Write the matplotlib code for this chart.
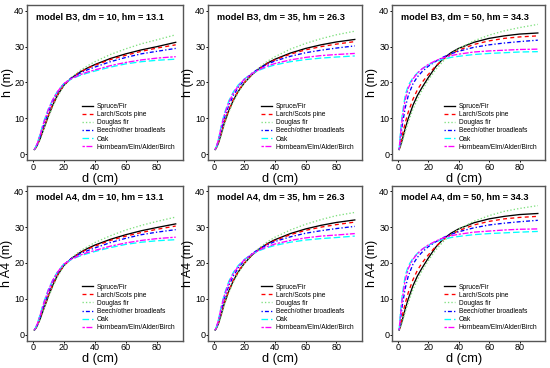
import matplotlib
matplotlib.use("Agg")
import matplotlib.pyplot as plt

plt.rcParams['font.family'] = ['Liberation Sans', 'DejaVu Sans']

species = ["Spruce/Fir", "Larch/Scots pine", "Douglas fir",
           "Beech/other broadleafs", "Oak", "Hornbeam/Elm/Alder/Birch"]
colors = ["black", "red", "#7FE07F", "blue", "cyan", "magenta"]
styles = ["-", (0, (3, 2.5)), (0, (1, 1.6)), (0, (1, 1.6, 3, 1.6)),
          (0, (5, 2.2)), (0, (1.8, 1.2, 4.5, 1.2))]

d = [1, 2, 3, 5, 7, 10, 13, 16, 20, 25, 30, 35, 40, 50, 60, 70, 80, 92]

# rows: species in the order above
b3_dm10 = [
    [1.3, 1.8, 2.6, 4.6, 7.0, 10.6, 13.8, 16.5, 19.2, 21.3, 22.8, 24.0, 25.0, 26.7, 28.0, 29.1, 30.0, 31.2],
    [1.3, 1.9, 2.7, 4.8, 7.2, 10.8, 14.0, 16.7, 19.3, 21.3, 22.8, 23.9, 24.8, 26.4, 27.6, 28.7, 29.6, 30.5],
    [1.3, 1.8, 2.5, 4.4, 6.8, 10.3, 13.4, 16.2, 19.0, 21.4, 23.2, 24.6, 25.8, 27.8, 29.4, 30.8, 31.9, 33.3],
    [1.3, 2.0, 2.9, 5.3, 8.0, 11.8, 14.9, 17.3, 19.6, 21.3, 22.5, 23.5, 24.3, 25.8, 27.0, 28.0, 28.7, 29.5],
    [1.3, 2.1, 3.2, 6.0, 9.0, 12.6, 15.4, 17.6, 19.7, 21.0, 21.9, 22.6, 23.2, 24.3, 25.2, 25.8, 26.2, 26.5],
    [1.3, 2.1, 3.1, 5.8, 8.7, 12.4, 15.3, 17.5, 19.7, 21.1, 22.1, 22.9, 23.5, 24.7, 25.6, 26.3, 26.8, 27.2],
]
b3_dm35 = [
    [1.3, 2.0, 3.0, 5.8, 8.8, 12.3, 15.2, 17.5, 19.9, 22.2, 24.0, 25.4, 26.5, 28.2, 29.5, 30.5, 31.3, 32.0],
    [1.3, 2.1, 3.1, 6.0, 9.0, 12.5, 15.4, 17.7, 20.0, 22.3, 24.0, 25.3, 26.3, 27.9, 29.1, 30.0, 30.7, 31.4],
    [1.3, 1.9, 2.8, 5.4, 8.4, 11.9, 14.8, 17.2, 19.8, 22.3, 24.3, 25.9, 27.2, 29.3, 30.9, 32.2, 33.3, 34.3],
    [1.3, 2.3, 3.6, 7.0, 10.2, 13.8, 16.5, 18.6, 20.7, 22.6, 24.0, 25.1, 26.0, 27.3, 28.3, 29.0, 29.6, 30.2],
    [1.3, 2.5, 4.0, 8.0, 11.4, 15.0, 17.5, 19.3, 21.0, 22.5, 23.5, 24.3, 24.9, 25.8, 26.4, 26.8, 27.1, 27.4],
    [1.3, 2.5, 3.9, 7.7, 11.0, 14.6, 17.2, 19.0, 20.9, 22.5, 23.7, 24.6, 25.3, 26.3, 27.0, 27.5, 27.8, 28.1],
]
b3_dm50 = [
    [1.3, 2.6, 4.0, 7.2, 10.0, 13.6, 16.4, 18.6, 21.3, 24.4, 26.7, 28.3, 29.5, 31.2, 32.3, 33.0, 33.5, 33.8],
    [1.3, 3.2, 5.2, 8.8, 11.8, 15.3, 18.0, 20.0, 22.2, 24.6, 26.5, 27.9, 29.0, 30.6, 31.6, 32.3, 32.7, 33.0],
    [1.3, 2.3, 3.5, 6.4, 9.0, 12.5, 15.4, 17.8, 20.6, 23.6, 26.0, 27.9, 29.4, 31.6, 33.2, 34.4, 35.3, 36.2],
    [1.3, 4.8, 8.0, 13.0, 16.4, 19.6, 21.6, 23.0, 24.5, 25.9, 27.1, 28.0, 28.7, 29.8, 30.5, 31.0, 31.4, 31.8],
    [1.3, 7.0, 11.0, 16.5, 19.2, 21.3, 22.7, 23.8, 24.9, 25.9, 26.5, 27.0, 27.3, 27.8, 28.1, 28.3, 28.5, 28.6],
    [1.3, 6.0, 9.8, 15.3, 18.5, 21.0, 22.6, 23.8, 25.0, 26.1, 26.9, 27.5, 27.9, 28.5, 28.8, 29.0, 29.2, 29.3],
]
a4_dm10 = [
    [1.3, 1.8, 2.6, 4.7, 7.1, 10.7, 13.9, 16.6, 19.3, 21.3, 22.8, 24.0, 25.0, 26.6, 27.9, 29.0, 29.9, 30.9],
    [1.3, 1.9, 2.7, 4.9, 7.3, 10.9, 14.1, 16.7, 19.3, 21.3, 22.7, 23.8, 24.7, 26.3, 27.5, 28.5, 29.4, 30.3],
    [1.3, 1.8, 2.5, 4.5, 6.9, 10.4, 13.5, 16.3, 19.1, 21.4, 23.2, 24.5, 25.7, 27.6, 29.2, 30.5, 31.6, 32.8],
    [1.3, 2.0, 2.9, 5.3, 8.0, 11.8, 14.9, 17.3, 19.6, 21.3, 22.5, 23.4, 24.2, 25.7, 26.9, 27.9, 28.6, 29.3],
    [1.3, 2.1, 3.2, 6.0, 9.0, 12.6, 15.4, 17.6, 19.7, 21.0, 21.9, 22.6, 23.2, 24.3, 25.2, 25.8, 26.2, 26.5],
    [1.3, 2.1, 3.1, 5.8, 8.7, 12.4, 15.3, 17.5, 19.7, 21.1, 22.1, 22.9, 23.5, 24.7, 25.6, 26.3, 26.8, 27.2],
]
a4_dm35 = [
    [1.3, 2.0, 3.0, 5.8, 8.8, 12.3, 15.2, 17.5, 19.9, 22.2, 24.0, 25.4, 26.5, 28.2, 29.5, 30.5, 31.3, 32.0],
    [1.3, 2.1, 3.1, 6.0, 9.0, 12.5, 15.4, 17.7, 20.0, 22.3, 24.0, 25.3, 26.3, 27.9, 29.1, 30.0, 30.7, 31.4],
    [1.3, 1.9, 2.8, 5.4, 8.4, 11.9, 14.8, 17.2, 19.8, 22.3, 24.3, 25.9, 27.2, 29.2, 30.8, 32.1, 33.2, 34.1],
    [1.3, 2.3, 3.6, 7.0, 10.2, 13.8, 16.5, 18.6, 20.7, 22.6, 24.0, 25.1, 26.0, 27.3, 28.3, 29.0, 29.6, 30.2],
    [1.3, 2.5, 4.0, 8.0, 11.4, 15.0, 17.5, 19.3, 21.0, 22.5, 23.5, 24.3, 24.9, 25.8, 26.4, 26.8, 27.1, 27.5],
    [1.3, 2.5, 3.9, 7.7, 11.0, 14.6, 17.2, 19.0, 20.9, 22.5, 23.7, 24.6, 25.3, 26.3, 27.0, 27.5, 27.8, 28.2],
]
a4_dm50 = [
    [1.3, 2.6, 4.0, 7.2, 10.0, 13.6, 16.4, 18.6, 21.3, 24.4, 26.7, 28.3, 29.5, 31.2, 32.3, 33.0, 33.5, 33.8],
    [1.3, 3.2, 5.2, 8.8, 11.8, 15.3, 18.0, 20.0, 22.2, 24.6, 26.5, 27.9, 29.0, 30.6, 31.6, 32.3, 32.7, 33.0],
    [1.3, 2.3, 3.5, 6.4, 9.0, 12.5, 15.4, 17.8, 20.6, 23.6, 26.0, 27.9, 29.4, 31.6, 33.2, 34.4, 35.2, 36.0],
    [1.3, 4.8, 8.0, 13.0, 16.4, 19.6, 21.6, 23.0, 24.5, 25.9, 27.1, 28.0, 28.7, 29.8, 30.6, 31.1, 31.5, 31.9],
    [1.3, 7.0, 11.0, 16.5, 19.2, 21.3, 22.7, 23.8, 24.9, 25.9, 26.6, 27.1, 27.4, 27.9, 28.2, 28.4, 28.6, 28.8],
    [1.3, 6.0, 9.8, 15.3, 18.5, 21.0, 22.6, 23.8, 25.0, 26.1, 27.0, 27.6, 28.0, 28.6, 28.9, 29.2, 29.4, 29.5],
]

titles = ["model B3, dm = 10, hm = 13.1", "model B3, dm = 35, hm = 26.3",
          "model B3, dm = 50, hm = 34.3", "model A4, dm = 10, hm = 13.1",
          "model A4, dm = 35, hm = 26.3", "model A4, dm = 50, hm = 34.3"]
panels = [b3_dm10, b3_dm35, b3_dm50, a4_dm10, a4_dm35, a4_dm50]
ylabels = ["h (m)"] * 3 + ["h A4 (m)"] * 3

W, H = 550, 368
fig = plt.figure(figsize=(W / 100, H / 100), dpi=100)
col_px = [(27, 156), (208, 154), (392, 153)]
row_px = [(5, 155), (185.5, 155)]

frame_col = "#555555"
for i in range(6):
    r, c = divmod(i, 3)
    lx, wx = col_px[c]
    ty, hy = row_px[r]
    ax = fig.add_axes([lx / W, 1 - (ty + hy) / H, wx / W, hy / H])
    for k in range(6):
        ax.plot(d, panels[i][k], color=colors[k], linestyle=styles[k],
                lw=0.95, label=species[k])
    ax.set_xlim(-3.7, 96.7)
    ax.set_ylim(-1.6, 41.6)
    ax.set_xticks([0, 20, 40, 60, 80])
    ax.set_yticks([0, 10, 20, 30, 40])
    ax.tick_params(direction='out', length=1.5, width=0.7, labelsize=6.5,
                   pad=0.5, colors='black')
    for sp in ax.spines.values():
        sp.set_color(frame_col)
        sp.set_linewidth(1.0)
    ax.set_xlabel("d (cm)", fontsize=9.2)
    ax.xaxis.set_label_coords(0.47, -12.8 / hy)
    ax.xaxis.label.set_verticalalignment('top')
    ax.set_ylabel(ylabels[i], fontsize=9)
    ax.yaxis.set_label_coords(-19.5 / wx, 0.5)
    ax.yaxis.label.set_verticalalignment('center')
    ax.text(0.06, 0.925, titles[i], transform=ax.transAxes, fontsize=6.6,
            fontweight='bold', va='center', ha='left')
    ax.legend(loc='lower right', frameon=False, fontsize=4.8,
              handlelength=1.75, handletextpad=0.5, labelspacing=0.17,
              borderpad=0.4, borderaxespad=0.74, bbox_to_anchor=(1.0, 0.011))

fig.savefig("out.png", dpi=100)
